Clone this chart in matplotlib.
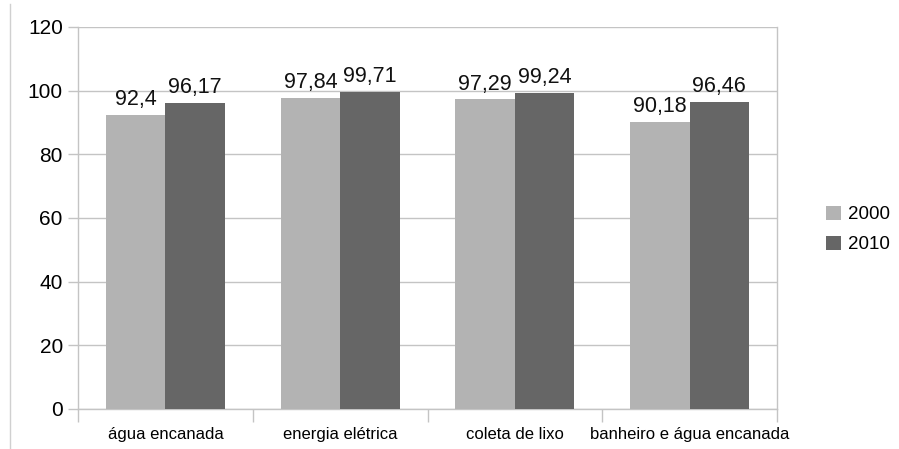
import numpy as np
import matplotlib.pyplot as plt
from matplotlib.lines import Line2D

plt.rcParams['font.family'] = ['Liberation Sans', 'DejaVu Sans']

categories = ['água encanada', 'energia elétrica', 'coleta de lixo', 'banheiro e água encanada']
years = ['2000', '2010']
v2000 = [92.4, 97.84, 97.29, 90.18]
v2010 = [96.17, 99.71, 99.24, 96.46]
labels2000 = ['92,4', '97,84', '97,29', '90,18']
labels2010 = ['96,17', '99,71', '99,24', '96,46']

c_light = '#b3b3b3'
c_dark = '#666666'
c_grid = '#c4c4c4'

fig = plt.figure(figsize=(8.99, 4.49), dpi=100)
ax = fig.add_axes([0.0868, 0.0891, 0.7775, 0.8508])

x = np.arange(len(categories))
w = 0.34
b1 = ax.bar(x - w / 2, v2000, w, color=c_light, label=years[0], zorder=3)
b2 = ax.bar(x + w / 2, v2010, w, color=c_dark, label=years[1], zorder=3)

for bars, labs in ((b1, labels2000), (b2, labels2010)):
    for rect, lab in zip(bars, labs):
        ax.annotate(lab, (rect.get_x() + rect.get_width() / 2, rect.get_height()),
                    xytext=(0, 7), textcoords='offset points',
                    ha='center', va='baseline', fontsize=15.5, color='#111111')

ax.set_xlim(-0.5, len(categories) - 0.5)
ax.set_ylim(0, 120)
ax.set_yticks(np.arange(0, 121, 20))
ax.yaxis.grid(True, color=c_grid, linewidth=1, zorder=0)

ax.set_xticks(x)
ax.set_xticklabels(categories, fontsize=12)
ax.set_xticks(np.arange(-0.5, len(categories), 1), minor=True)
ax.tick_params(axis='x', which='major', length=0, pad=13)
ax.tick_params(axis='x', which='minor', length=9, color=c_grid, width=1)
ax.tick_params(axis='y', length=7, color=c_grid, width=1, pad=4, labelsize=15)

for s in ax.spines.values():
    s.set_color(c_grid)
    s.set_linewidth(1)
ax.spines['top'].set_visible(False)

ax.legend(loc='center left', bbox_to_anchor=(1.07, 0.47), frameon=False,
          borderaxespad=0, borderpad=0,
          fontsize=13.5, handlelength=0.8, handleheight=0.8, handletextpad=0.4,
          labelspacing=0.65)

# thin border on the left edge of the figure
fig.add_artist(Line2D([0.011, 0.011], [0.0, 0.99], color='#d0d0d0', linewidth=1,
                      transform=fig.transFigure))

fig.savefig('out.png', dpi=100)
